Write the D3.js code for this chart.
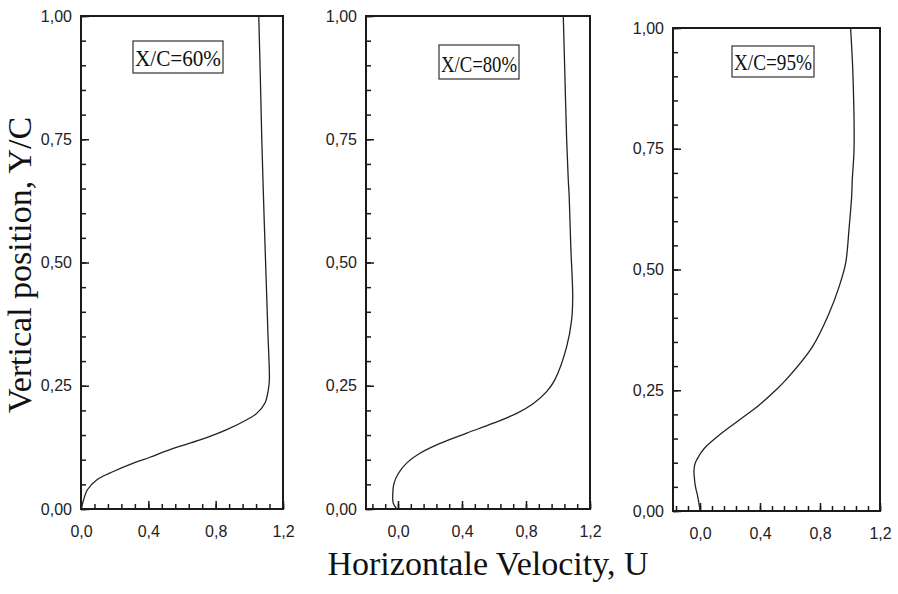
<!DOCTYPE html>
<html><head><meta charset="utf-8">
<script src="https://cdn.jsdelivr.net/npm/d3@7"></script>
<style>
html,body{margin:0;padding:0;background:#fff;}
svg{display:block;}
</style></head>
<body>
<script>
// ---- data ----
const panelLabels = ["X/C=60%", "X/C=80%", "X/C=95%"];
const yTickLabels = ["0,00", "0,25", "0,50", "0,75", "1,00"];
const xTickLabels = ["0,0", "0,4", "0,8", "1,2"];

const u60 = [0.0, 0.01, 0.038, 0.093, 0.192, 0.311, 0.41, 0.548, 0.707, 0.866, 0.985, 1.044, 1.093, 1.113, 1.119, 1.11, 1.10, 1.087, 1.074, 1.065, 1.056];
const y60 = [0.0, 0.012, 0.039, 0.059, 0.076, 0.093, 0.105, 0.123, 0.140, 0.161, 0.181, 0.194, 0.215, 0.242, 0.262, 0.36, 0.465, 0.60, 0.75, 0.88, 1.0];

const u80 = [-0.008, -0.03, -0.033, -0.025, 0.002, 0.054, 0.1375, 0.2625, 0.43, 0.596, 0.742, 0.846, 0.929, 0.98, 1.054, 1.085, 1.092, 1.08, 1.07, 1.064, 1.054, 1.043, 1.033];
const y80 = [0.0, 0.012, 0.025, 0.052, 0.072, 0.093, 0.113, 0.133, 0.154, 0.174, 0.194, 0.214, 0.238, 0.262, 0.329, 0.383, 0.43, 0.532, 0.634, 0.669, 0.75, 0.88, 1.0];

const u95 = [0.0, -0.015, -0.03, -0.038, -0.04, -0.033, -0.018, 0.005, 0.045, 0.127, 0.26, 0.393, 0.504, 0.571, 0.749, 0.86, 0.927, 0.971, 0.993, 1.011, 1.015, 1.027, 1.02, 1.004];
const y95 = [0.002, 0.03, 0.05, 0.07, 0.085, 0.098, 0.108, 0.12, 0.135, 0.157, 0.188, 0.219, 0.25, 0.271, 0.34, 0.409, 0.464, 0.513, 0.582, 0.651, 0.685, 0.75, 0.9, 1.0];

const seriesU = [u60, u80, u95];
const seriesY = [y60, y80, y95];

// ---- layout ----
const W = 898, H = 594;
const panels = [
  {left: 81,  right: 283, top: 16, bottom: 509, xmin: 0.0,   box: [133, 41, 90, 32]},
  {left: 366, right: 590, top: 16, bottom: 509, xmin: -0.2,  box: [439, 45, 80, 34]},
  {left: 673, right: 880, top: 28, bottom: 511, xmin: -0.18, box: [732, 46, 82, 31]}
];

const svg = d3.select("body").append("svg").attr("width", W).attr("height", H);
const ink = "#1a1a1a";
const tickFont = "'Liberation Sans', Arial, sans-serif";
const serif = "'Liberation Serif', 'Times New Roman', serif";

panels.forEach((p, i) => {
  const x = d3.scaleLinear().domain([p.xmin, 1.2]).range([p.left, p.right]);
  const y = d3.scaleLinear().domain([0, 1]).range([p.bottom, p.top]);
  const g = svg.append("g");

  // minor ticks
  const yMinor = d3.range(0, 21).map(k => k * 0.05);
  const xMinor = d3.range(-2, 16).map(k => +(k * 0.08).toFixed(2)).filter(v => v >= p.xmin - 1e-9 && v <= 1.2 + 1e-9);

  g.append("g").attr("transform", `translate(${p.left},0)`)
    .call(d3.axisLeft(y).tickValues(yMinor).tickSize(-5).tickFormat(""))
    .call(a => a.select(".domain").remove())
    .call(a => a.selectAll("line").attr("stroke", ink).attr("stroke-width", 1.5));
  g.append("g").attr("transform", `translate(0,${p.bottom})`)
    .call(d3.axisBottom(x).tickValues(xMinor).tickSize(-5).tickFormat(""))
    .call(a => a.select(".domain").remove())
    .call(a => a.selectAll("line").attr("stroke", ink).attr("stroke-width", 1.5));

  // major ticks + labels
  const yMajor = [0, 0.25, 0.5, 0.75, 1.0];
  g.append("g").attr("transform", `translate(${p.left},0)`)
    .call(d3.axisLeft(y).tickValues(yMajor).tickSize(-8).tickPadding(9)
      .tickFormat((d, j) => yTickLabels[j]))
    .call(a => a.select(".domain").remove())
    .call(a => a.selectAll("line").attr("stroke", ink).attr("stroke-width", 1.5))
    .call(a => a.selectAll("text").attr("font-family", tickFont).attr("font-size", 16).attr("fill", "#222"));
  const xMajor = [0, 0.4, 0.8, 1.2];
  g.append("g").attr("transform", `translate(0,${p.bottom})`)
    .call(d3.axisBottom(x).tickValues(xMajor).tickSize(-8).tickPadding(17)
      .tickFormat((d, j) => xTickLabels[j]))
    .call(a => a.select(".domain").remove())
    .call(a => a.selectAll("line").attr("stroke", ink).attr("stroke-width", 1.5))
    .call(a => a.selectAll("text").attr("font-family", tickFont).attr("font-size", 16).attr("fill", "#222"));

  // frame
  g.append("rect").attr("x", p.left).attr("y", p.top)
    .attr("width", p.right - p.left).attr("height", p.bottom - p.top)
    .attr("fill", "none").attr("stroke", ink).attr("stroke-width", 2);

  // curve
  const pts = seriesU[i].map((u, j) => [u, seriesY[i][j]]);
  const line = d3.line().x(d => x(d[0])).y(d => y(d[1])).curve(d3.curveCatmullRom.alpha(0.5));
  g.append("path").datum(pts).attr("d", line)
    .attr("fill", "none").attr("stroke", "#222").attr("stroke-width", 1.3);

  // label box
  const [bx, by, bw, bh] = p.box;
  g.append("rect").attr("x", bx).attr("y", by).attr("width", bw).attr("height", bh)
    .attr("fill", "#fff").attr("stroke", "#333").attr("stroke-width", 1.2);
  g.append("text").attr("x", bx + 2).attr("y", by + bh - 7)
    .attr("font-family", serif).attr("font-size", 24).attr("fill", "#111")
    .attr("textLength", bw - 4).attr("lengthAdjust", "spacingAndGlyphs")
    .text(panelLabels[i]);
});

// axis titles
svg.append("text")
  .attr("transform", "translate(31,265) rotate(-90)")
  .attr("text-anchor", "middle")
  .attr("font-family", serif).attr("font-size", 34).attr("fill", "#111")
  .text("Vertical position, Y/C");
svg.append("text")
  .attr("x", 488).attr("y", 575)
  .attr("text-anchor", "middle")
  .attr("font-family", serif).attr("font-size", 34).attr("fill", "#111")
  .text("Horizontale Velocity, U");
</script>
</body></html>
